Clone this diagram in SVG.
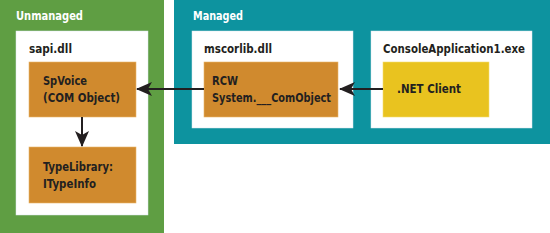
<svg xmlns="http://www.w3.org/2000/svg" width="550" height="233" viewBox="0 0 550 233">
<defs>
<style>
text{font-family:"Liberation Sans Narrow","DejaVu Sans Condensed","Liberation Sans",sans-serif;font-weight:bold;font-size:13px;fill:#231f20}
.hdr{fill:#ffffff}
.panel{fill:#ffffff;stroke:#d9e6ee;stroke-width:0.5}
.obj{fill:#d08a2e;stroke:#e9b56a;stroke-width:0.6}
.net{fill:#e9c31f;stroke:#f3dc70;stroke-width:0.6}
.conn{stroke:#231f20;stroke-width:2;fill:none}
</style>
<marker id="ah" markerWidth="16" markerHeight="14" viewBox="0 0 16 14" refX="15" refY="7" orient="auto" markerUnits="userSpaceOnUse">
<path d="M0,0 L16,7 L0,14 L4,7 Z" fill="#231f20"/>
</marker>
</defs>
<rect width="550" height="233" fill="#ffffff"/>
<g id="unmanaged">
<rect x="0" y="0" width="164" height="233" fill="#5f9e43"/>
<text class="hdr" x="16" y="20" textLength="67" lengthAdjust="spacingAndGlyphs">Unmanaged</text>
</g>
<g id="managed">
<rect x="174" y="0" width="376" height="144" fill="#0d939f"/>
<text class="hdr" x="193" y="20" textLength="50" lengthAdjust="spacingAndGlyphs">Managed</text>
</g>
<g id="sapi">
<rect class="panel" x="16" y="31" width="132" height="184"/>
<text x="29" y="53" textLength="43" lengthAdjust="spacingAndGlyphs">sapi.dll</text>
</g>
<g id="mscorlib">
<rect class="panel" x="192" y="31" width="161" height="97"/>
<text x="204" y="53" textLength="68" lengthAdjust="spacingAndGlyphs">mscorlib.dll</text>
</g>
<g id="consoleapp">
<rect class="panel" x="371" y="31" width="161" height="97"/>
<text x="383" y="53" textLength="142" lengthAdjust="spacingAndGlyphs">ConsoleApplication1.exe</text>
</g>
<g id="spvoice">
<rect class="obj" x="29" y="62" width="107" height="55"/>
<text x="43" y="85" textLength="44" lengthAdjust="spacingAndGlyphs">SpVoice</text>
<text x="43" y="102" textLength="77" lengthAdjust="spacingAndGlyphs">(COM Object)</text>
</g>
<g id="typelibrary">
<rect class="obj" x="29" y="147" width="107" height="56"/>
<text x="43" y="171" textLength="70" lengthAdjust="spacingAndGlyphs">TypeLibrary:</text>
<text x="43" y="188" textLength="53" lengthAdjust="spacingAndGlyphs">ITypeInfo</text>
</g>
<g id="rcw">
<rect class="obj" x="204" y="62" width="134" height="55"/>
<text x="212" y="85" textLength="26" lengthAdjust="spacingAndGlyphs">RCW</text>
<text x="212" y="102" textLength="119" lengthAdjust="spacingAndGlyphs">System.___ComObject</text>
</g>
<g id="netclient">
<rect class="net" x="383" y="62" width="106" height="55"/>
<text x="397" y="93" textLength="64" lengthAdjust="spacingAndGlyphs">.NET Client</text>
</g>
<g id="connectors">
<line class="conn" x1="383" y1="89" x2="340" y2="89" marker-end="url(#ah)"/>
<line class="conn" x1="204" y1="89" x2="137" y2="89" marker-end="url(#ah)"/>
<line class="conn" x1="82" y1="117" x2="82" y2="146" marker-end="url(#ah)"/>
</g>
</svg>
